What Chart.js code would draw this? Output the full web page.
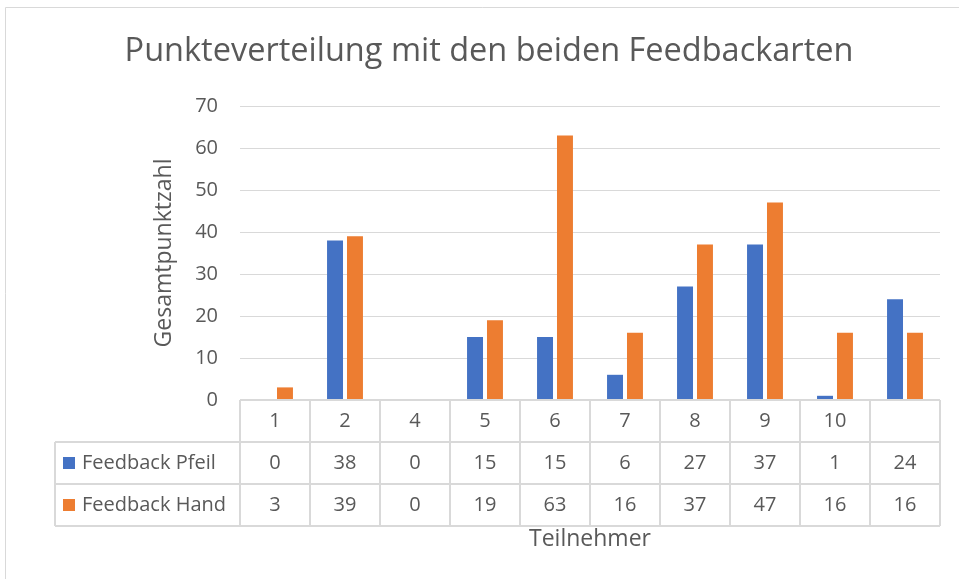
<!DOCTYPE html>
<html>
<head>
<meta charset="utf-8">
<script src="https://cdn.jsdelivr.net/npm/chart.js@4.4.0/dist/chart.umd.min.js"></script>
<style>
  html, body { margin: 0; padding: 0; background: #fff; }
  #wrap { position: relative; width: 959px; height: 579px; }
</style>
</head>
<body>
<div id="wrap"><canvas id="chart" width="959" height="579"></canvas></div>
<script>
/* datos del grafico */
const teilnehmer = ['1', '2', '4', '5', '6', '7', '8', '9', '10', ''];
const feedbackPfeil = [0, 38, 0, 15, 15, 6, 27, 37, 1, 24];
const feedbackHand = [3, 39, 0, 19, 63, 16, 37, 47, 16, 16];
const yTicks = [0, 10, 20, 30, 40, 50, 60, 70];

const grau = '#595959';
const linie = '#d9d9d9';
const schrift = '"Open Sans", "Noto Sans", sans-serif';

/* rahmen alrededor del grafico */
const rahmenPlugin = {
    id: 'rahmen',
    beforeDraw(chart) {
        const ctx = chart.ctx;
        ctx.save();
        ctx.strokeStyle = linie;
        ctx.lineWidth = 1;
        ctx.beginPath();
        ctx.moveTo(5.5, chart.height);
        ctx.lineTo(5.5, 7.5);
        ctx.lineTo(chart.width, 7.5);
        ctx.stroke();
        ctx.restore();
    }
};

/* tabla de datos debajo del eje x */
const tabellePlugin = {
    id: 'tabelle',
    afterDraw(chart) {
        const ctx = chart.ctx;
        const x = chart.scales.x;
        const area = chart.chartArea;
        const n = teilnehmer.length;
        const w = x.width / n;
        const rowH = 42;
        const top = area.bottom;
        const legLeft = 55;
        const reihen = [
            { name: 'Feedback Pfeil', farbe: '#4472C4', werte: feedbackPfeil },
            { name: 'Feedback Hand', farbe: '#ED7D31', werte: feedbackHand }
        ];

        ctx.save();
        ctx.strokeStyle = linie;
        ctx.lineWidth = 2;
        ctx.beginPath();
        // lineas horizontales
        ctx.moveTo(area.left, top);
        ctx.lineTo(area.right, top);
        for (let r = 1; r <= 3; r++) {
            ctx.moveTo(legLeft, top + r * rowH);
            ctx.lineTo(area.right, top + r * rowH);
        }
        // lineas verticales
        for (let i = 0; i <= n; i++) {
            const px = area.left + i * w;
            ctx.moveTo(px, top);
            ctx.lineTo(px, top + 3 * rowH);
        }
        ctx.moveTo(legLeft, top + rowH);
        ctx.lineTo(legLeft, top + 3 * rowH);
        ctx.stroke();

        ctx.fillStyle = grau;
        ctx.font = '20px ' + schrift;
        ctx.textBaseline = 'middle';
        ctx.textAlign = 'center';
        teilnehmer.forEach((t, i) => {
            ctx.fillText(t, x.getPixelForValue(i), top + rowH / 2);
        });
        reihen.forEach((reihe, r) => {
            const cy = top + (r + 1.5) * rowH;
            reihe.werte.forEach((v, i) => {
                ctx.fillText(String(v), x.getPixelForValue(i), cy);
            });
        });

        ctx.textAlign = 'left';
        reihen.forEach((reihe, r) => {
            const cy = top + (r + 1.5) * rowH;
            ctx.fillStyle = reihe.farbe;
            ctx.fillRect(63, cy - 6, 12, 12);
            ctx.fillStyle = grau;
            ctx.fillText(reihe.name, 82, cy);
        });
        ctx.restore();
    }
};

const ctx = document.getElementById('chart').getContext('2d');

const chart = new Chart(ctx, {
    type: 'bar',
    data: {
        labels: teilnehmer,
        datasets: [
            {
                label: 'Feedback Pfeil',
                data: feedbackPfeil,
                backgroundColor: '#4472C4',
                categoryPercentage: 0.57,
                barPercentage: 0.8
            },
            {
                label: 'Feedback Hand',
                data: feedbackHand,
                backgroundColor: '#ED7D31',
                categoryPercentage: 0.57,
                barPercentage: 0.8
            }
        ]
    },
    options: {
        responsive: false,
        animation: false,
        layout: { padding: { top: 10, left: 38, right: 19, bottom: 20 } },
        plugins: {
            legend: { display: false },
            tooltip: { enabled: false },
            title: {
                display: true,
                text: 'Punkteverteilung mit den beiden Feedbackarten',
                color: grau,
                font: { family: schrift, size: 32.5, weight: 'normal', lineHeight: 1.2 },
                padding: { top: 22.5, bottom: 34.5 }
            }
        },
        scales: {
            x: {
                ticks: { display: false },
                grid: { display: false },
                border: { display: false },
                afterFit(scale) { scale.height = 159; },
                title: {
                    display: true,
                    text: 'Teilnehmer',
                    color: grau,
                    font: { family: schrift, size: 23, lineHeight: 1.2 },
                    padding: { top: 0, bottom: 6 }
                }
            },
            y: {
                min: 0,
                max: 70,
                afterBuildTicks(scale) { scale.ticks = yTicks.map(v => ({ value: v })); },
                ticks: {
                    color: grau,
                    font: { family: schrift, size: 20 },
                    padding: 22
                },
                grid: { color: linie, lineWidth: 1, drawTicks: false },
                border: { display: false },
                afterFit(scale) { scale.width = 202; },
                title: {
                    display: true,
                    text: 'Gesamtpunktzahl',
                    color: grau,
                    font: { family: schrift, size: 23, lineHeight: 1.2 },
                    padding: { top: 113, bottom: 0 }
                }
            }
        }
    },
    plugins: [rahmenPlugin, tabellePlugin]
});
</script>
</body>
</html>
